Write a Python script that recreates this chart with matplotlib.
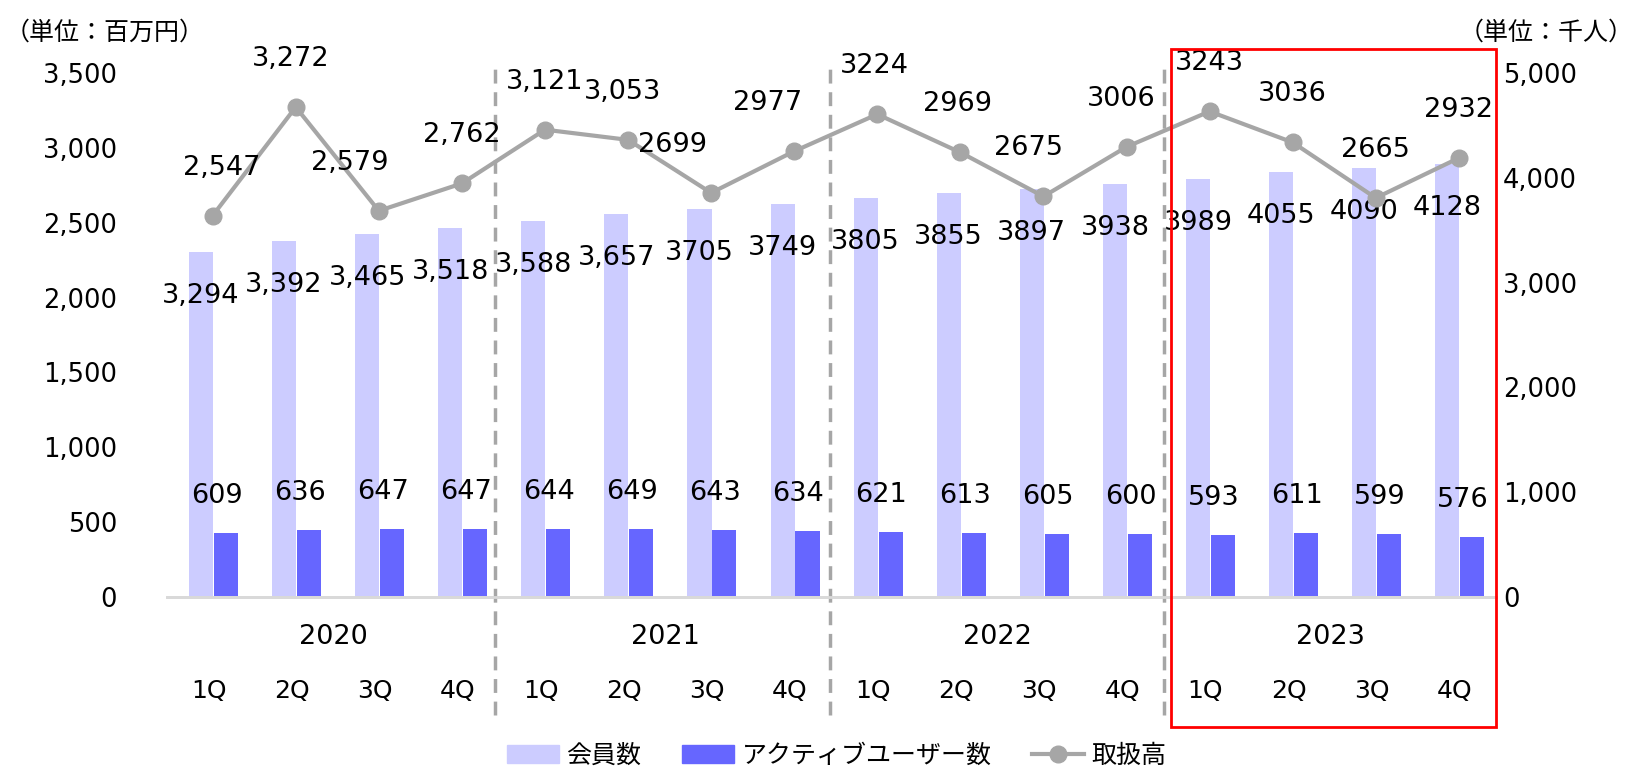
import numpy as np
import matplotlib.pyplot as plt
from matplotlib.patches import Rectangle, Patch
from matplotlib.lines import Line2D

plt.rcParams['font.family'] = ['DejaVu Sans', 'Noto Sans CJK JP']

# data
years = ['2020', '2021', '2022', '2023']
quarters = ['1Q', '2Q', '3Q', '4Q'] * 4
members = [3294, 3392, 3465, 3518, 3588, 3657, 3705, 3749,
           3805, 3855, 3897, 3938, 3989, 4055, 4090, 4128]
active_users = [609, 636, 647, 647, 644, 649, 643, 634,
                621, 613, 605, 600, 593, 611, 599, 576]
gmv = [2547, 3272, 2579, 2762, 3121, 3053, 2699, 2977,
       3224, 2969, 2675, 3006, 3243, 3036, 2665, 2932]
n_comma = 6  # first labels were written with thousands separator

# style
c_light = '#ccccff'
c_dark = '#6666ff'
c_line = '#a6a6a6'
fs = 18
fs_lab = 19.5
gmv_label_dx = [9, -5, -29, 0, 0, -6, -39, -27, -3, -3, -15, -5, 0, 0, 0, 0]


def fmt(v, i):
    return f'{v:,}' if i < n_comma else f'{v}'


fig = plt.figure(figsize=(16.37, 7.75), dpi=100)
ax = fig.add_axes([0.102, 0.2297, 0.812, 0.6762])
ax2 = ax.twinx()
ax.set_zorder(ax2.get_zorder() + 1)
ax.patch.set_visible(False)

x = np.arange(len(members))
w = 0.29
ax2.bar(x - 0.09, members, width=w, color=c_light, zorder=2)
ax2.bar(x + 0.21, active_users, width=w, color=c_dark, zorder=2)
ax.plot(x + 0.05, gmv, color=c_line, lw=3, marker='o', ms=12, zorder=3)

ax.set_xlim(-0.5, len(members) - 0.5)
ax.set_ylim(0, 3500)
ax2.set_ylim(0, 5000)
ax.set_yticks(np.arange(0, 3501, 500))
ax.set_yticklabels([f'{v:,}' for v in range(0, 3501, 500)], fontsize=18.5)
ax2.set_yticks(np.arange(0, 5001, 1000))
ax2.set_yticklabels([f'{v:,}' for v in range(0, 5001, 1000)], fontsize=18.5)
ax.tick_params(axis='y', length=0, pad=36)
ax2.tick_params(axis='y', length=0, pad=5)
ax.set_xticks([])
for a in (ax, ax2):
    for s in ('top', 'left', 'right'):
        a.spines[s].set_visible(False)
    a.spines['bottom'].set_color('#d9d9d9')
    a.spines['bottom'].set_linewidth(2)

# data labels
for i in range(len(members)):
    ax2.annotate(fmt(members[i], i), (x[i] - 0.09, members[i]),
                 xytext=(0, -44), textcoords='offset pixels',
                 ha='center', va='center', fontsize=fs_lab, zorder=5)
    ax2.annotate(f'{active_users[i]}', (x[i] + 0.1, active_users[i]),
                 xytext=(0, 37), textcoords='offset pixels',
                 ha='center', va='center', fontsize=fs_lab, zorder=5)
    ax.annotate(fmt(gmv[i], i), (x[i] + 0.05, gmv[i]),
                xytext=(gmv_label_dx[i], 48), textcoords='offset pixels',
                ha='center', va='center', fontsize=fs_lab, zorder=5)

# category labels
tr = ax.get_xaxis_transform()
for i, q in enumerate(quarters):
    ax.text(x[i], -0.179, q, transform=tr, ha='center', va='center', fontsize=fs)
for k, yr in enumerate(years):
    ax.text(4 * k + 1.5, -0.076, yr, transform=tr, ha='center', va='center', fontsize=fs_lab)

# year separators
for xs in [3.45, 7.48, 11.5]:
    ax.plot([xs, xs], [-0.225, 1.01], transform=tr, color='#a6a6a6', lw=2.5,
            ls=(0, (4, 2.5)), clip_on=False, zorder=1)

# highlight 2023
ax.add_patch(Rectangle((11.58, -0.249), 15.5 - 11.58, 1.295, transform=tr,
                       fill=False, edgecolor='#ff0000', lw=2, clip_on=False, zorder=6))

fig.text(0.003, 0.958, '（単位：百万円）', fontsize=fs, ha='left', va='center')
fig.text(0.998, 0.958, '（単位：千人）', fontsize=fs, ha='right', va='center')

handles = [Patch(color=c_light), Patch(color=c_dark),
           Line2D([], [], color=c_line, lw=3, marker='o', ms=12)]
fig.legend(handles, ['会員数', 'アクティブユーザー数', '取扱高'], loc='center',
           bbox_to_anchor=(0.511, 0.025), ncol=3, frameon=False, fontsize=fs,
           handlelength=2.1, columnspacing=1.6, handletextpad=0.3)

fig.savefig('out.png', dpi=100)
